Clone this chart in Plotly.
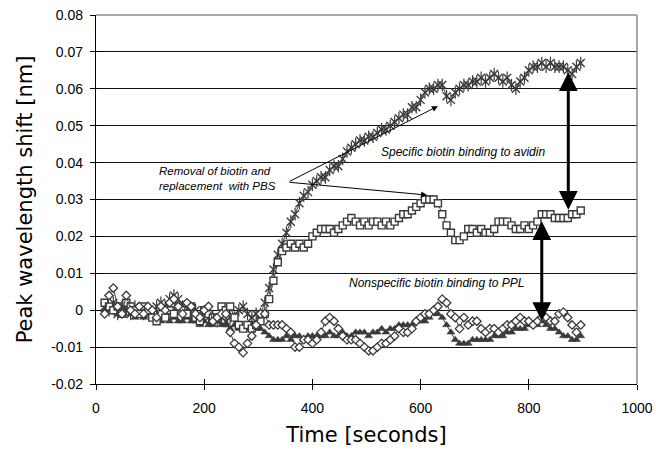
import plotly.graph_objects as go

time_s = [16, 24, 32, 40, 48, 56, 64, 72, 80, 88,
          96, 104, 112, 120, 128, 136, 144, 152, 160, 168,
          176, 184, 192, 200, 208, 216, 224, 232, 240, 248,
          256, 264, 272, 280, 288, 296, 304, 312, 320, 328,
          336, 344, 352, 360, 368, 376, 384, 392, 400, 408,
          416, 424, 432, 440, 448, 456, 464, 472, 480, 488,
          496, 504, 512, 520, 528, 536, 544, 552, 560, 568,
          576, 584, 592, 600, 608, 616, 624, 632, 640, 648,
          656, 664, 672, 680, 688, 696, 704, 712, 720, 728,
          736, 744, 752, 760, 768, 776, 784, 792, 800, 808,
          816, 824, 832, 840, 848, 856, 864, 872, 880, 888,
          896]

avidin = [0.001, 0.000, 0.002, -0.001, 0.001, 0.000, -0.001, 0.001, 0.000, -0.001,
          0.000, -0.001, 0.001, 0.002, 0.001, 0.003, 0.004, 0.003, 0.001, 0.000,
          -0.001, 0.000, -0.002, -0.001, -0.002, -0.002, -0.003, -0.002, -0.003, -0.002,
          -0.002, 0.000, 0.001, -0.001, -0.002, -0.001, -0.001, 0.002, 0.006, 0.011,
          0.015, 0.018, 0.021, 0.024, 0.026, 0.029, 0.031, 0.032, 0.034, 0.035,
          0.036, 0.036, 0.038, 0.039, 0.039, 0.041, 0.043, 0.044, 0.045, 0.046,
          0.046, 0.047, 0.047, 0.048, 0.049, 0.049, 0.050, 0.051, 0.052, 0.053,
          0.053, 0.055, 0.055, 0.057, 0.059, 0.060, 0.060, 0.061, 0.061, 0.058,
          0.057, 0.059, 0.060, 0.061, 0.061, 0.062, 0.062, 0.063, 0.062, 0.063,
          0.064, 0.063, 0.062, 0.063, 0.061, 0.060, 0.062, 0.063, 0.065, 0.066,
          0.066, 0.067, 0.066, 0.067, 0.066, 0.066, 0.066, 0.065, 0.064, 0.066,
          0.067]

pbs_square = [0.002, 0.001, 0.000, 0.001, -0.001, 0.002, 0.001, 0.000, -0.001, 0.001,
              0.000, -0.002, -0.003, -0.001, -0.002, 0.000, -0.001, 0.001, 0.000, -0.001,
              0.001, -0.002, -0.003, 0.000, -0.001, -0.002, -0.002, 0.001, 0.000, 0.001,
              -0.002, -0.004, -0.005, -0.004, -0.005, -0.004, -0.003, -0.001, 0.003, 0.008,
              0.013, 0.016, 0.017, 0.018, 0.017, 0.018, 0.017, 0.018, 0.020, 0.021,
              0.022, 0.022, 0.022, 0.021, 0.022, 0.023, 0.024, 0.025, 0.024, 0.023,
              0.024, 0.023, 0.024, 0.024, 0.023, 0.024, 0.023, 0.024, 0.025, 0.026,
              0.026, 0.027, 0.028, 0.029, 0.030, 0.030, 0.030, 0.029, 0.026, 0.023,
              0.021, 0.019, 0.019, 0.020, 0.022, 0.022, 0.021, 0.022, 0.021, 0.021,
              0.022, 0.024, 0.024, 0.024, 0.023, 0.022, 0.022, 0.023, 0.022, 0.023,
              0.024, 0.026, 0.026, 0.026, 0.025, 0.025, 0.025, 0.025, 0.026, 0.026,
              0.027]

ppl_diamond = [-0.001, 0.004, 0.006, 0.001, -0.001, 0.004, 0.000, -0.001, 0.001, -0.001,
               0.001, 0.000, -0.002, 0.001, 0.000, 0.002, 0.003, 0.001, -0.001, 0.002,
               0.001, -0.001, -0.002, 0.000, 0.001, -0.003, -0.002, -0.001, -0.001, -0.006,
               -0.009, -0.010, -0.0115, -0.009, -0.007, -0.004, -0.001, -0.001, -0.004, -0.004,
               -0.004, -0.004, -0.005, -0.006, -0.010, -0.010, -0.008, -0.008, -0.009, -0.008,
               -0.006, -0.003, -0.002, -0.003, -0.005, -0.007, -0.008, -0.008, -0.008, -0.009,
               -0.010, -0.011, -0.011, -0.010, -0.009, -0.009, -0.008, -0.007, -0.005, -0.006,
               -0.006, -0.005, -0.003, -0.002, -0.001, -0.001, 0.000, 0.001, 0.003, 0.002,
               -0.001, -0.002, -0.005, -0.002, -0.004, -0.003, -0.003, -0.005, -0.006, -0.005,
               -0.005, -0.006, -0.005, -0.004, -0.004, -0.003, -0.002, -0.003, -0.003, -0.004,
               -0.003, -0.002, -0.002, -0.003, -0.003, -0.001, -0.0005, -0.002, -0.004, -0.006,
               -0.004]

ppl_triangle = [0.000, 0.001, 0.000, -0.001, -0.001, 0.000, -0.001, -0.002, -0.001, -0.002,
                -0.001, -0.002, -0.002, -0.003, -0.002, -0.003, -0.002, -0.003, -0.003, -0.002,
                -0.003, -0.003, -0.004, -0.003, -0.004, -0.004, -0.003, -0.004, -0.004, -0.005,
                -0.004, -0.005, -0.005, -0.005, -0.004, -0.005, -0.005, -0.006, -0.007, -0.008,
                -0.008, -0.008, -0.007, -0.008, -0.007, -0.007, -0.008, -0.007, -0.007, -0.007,
                -0.007, -0.007, -0.006, -0.007, -0.007, -0.006, -0.007, -0.007, -0.006, -0.006,
                -0.006, -0.007, -0.006, -0.006, -0.005, -0.006, -0.005, -0.005, -0.004, -0.004,
                -0.004, -0.004, -0.003, -0.003, -0.003, -0.002, -0.001, -0.001, -0.002, -0.004,
                -0.006, -0.008, -0.009, -0.009, -0.009, -0.008, -0.008, -0.008, -0.008, -0.008,
                -0.007, -0.007, -0.007, -0.006, -0.006, -0.005, -0.005, -0.005, -0.004, -0.004,
                -0.004, -0.003, -0.004, -0.005, -0.005, -0.006, -0.007, -0.007, -0.008, -0.008,
                -0.007]

y_tickvals = [-0.02, -0.01, 0, 0.01, 0.02, 0.03, 0.04, 0.05, 0.06, 0.07, 0.08]
y_ticktext = ["-0.02", "-0.01", "0", "0.01", "0.02", "0.03", "0.04", "0.05", "0.06", "0.07", "0.08"]
x_tickvals = [0, 200, 400, 600, 800, 1000]
x_ticktext = ["0", "200", "400", "600", "800", "1000"]

DARK = "#3a3a3a"

fig = go.Figure()
fig.add_trace(go.Scatter(x=time_s, y=ppl_triangle, mode="lines+markers",
                         line=dict(color=DARK, width=1),
                         marker=dict(symbol="triangle-up", size=7, color=DARK,
                                     line=dict(color=DARK, width=0.5))))
fig.add_trace(go.Scatter(x=time_s, y=avidin, mode="lines+markers",
                         line=dict(color=DARK, width=1),
                         marker=dict(symbol="x-thin-open", size=8, color=DARK,
                                     line=dict(color=DARK, width=1.4))))
fig.add_trace(go.Scatter(x=time_s, y=avidin, mode="markers",
                         marker=dict(symbol="line-ns-open", size=9, color=DARK,
                                     line=dict(color=DARK, width=1.2))))
fig.add_trace(go.Scatter(x=time_s, y=pbs_square, mode="lines+markers",
                         line=dict(color=DARK, width=1),
                         marker=dict(symbol="square", size=7, color="white",
                                     line=dict(color=DARK, width=1.4))))
fig.add_trace(go.Scatter(x=time_s, y=ppl_diamond, mode="lines+markers",
                         line=dict(color=DARK, width=1),
                         marker=dict(symbol="diamond", size=6.5, color="white",
                                     line=dict(color=DARK, width=1.3))))

# inner half of the "cross" tick marks
fig.update_layout(
    xaxis2=dict(overlaying="x", anchor="y", range=[0, 1000], tickvals=x_tickvals,
                ticks="inside", ticklen=5, tickcolor="black", showticklabels=False,
                showgrid=False, zeroline=False, side="bottom", automargin=False),
    yaxis2=dict(overlaying="y", anchor="x", range=[-0.02, 0.08], tickvals=y_tickvals,
                ticks="inside", ticklen=5, tickcolor="black", showticklabels=False,
                showgrid=False, zeroline=False, side="left", automargin=False),
)
fig.add_trace(go.Scatter(x=[None], y=[None], xaxis="x2", yaxis="y2",
                         showlegend=False, hoverinfo="skip"))

ann_font = dict(family="Liberation Sans, Arial", size=12, color="black")
fig.add_annotation(x=678, y=0.0430, xref="x", yref="y", showarrow=False,
                   text="<i>Specific biotin binding to avidin</i>", font=ann_font)
fig.add_annotation(x=630, y=0.0075, xref="x", yref="y", showarrow=False,
                   text="<i>Nonspecific biotin binding to PPL</i>", font=ann_font)
fig.add_annotation(x=113, y=0.0356, xref="x", yref="y", showarrow=False,
                   xanchor="left", align="left",
                   text="<i>Removal of biotin and<br>replacement  with PBS</i>",
                   font=dict(family="Liberation Sans, Arial", size=11.5, color="black"))

# thin arrows from the removal note
for tx, ty in [(632, 0.0553), (612, 0.0312)]:
    fig.add_annotation(x=tx, y=ty, ax=355, ay=0.0347, xref="x", yref="y",
                       axref="x", ayref="y", text="", showarrow=True,
                       arrowhead=2, arrowsize=1.2, arrowwidth=1, arrowcolor="black",
                       standoff=0)

# thick double-headed arrows
for tx, ytop, ybot in [(873, 0.0645, 0.0268), (824, 0.0241, -0.0033)]:
    fig.add_annotation(x=tx, y=ytop, ax=tx, ay=ybot, xref="x", yref="y",
                       axref="x", ayref="y", text="", showarrow=True,
                       arrowhead=2, arrowsize=1.25, arrowwidth=3, arrowcolor="black",
                       arrowside="end+start", standoff=0, startstandoff=0)

# grey frame on top and right
fig.add_shape(type="line", xref="paper", yref="paper", x0=0, x1=1, y0=1, y1=1,
              line=dict(color="#8c8c8c", width=1.5))
fig.add_shape(type="line", xref="paper", yref="paper", x0=1, x1=1, y0=0, y1=1,
              line=dict(color="#8c8c8c", width=1.5))

fig.update_layout(
    width=656, height=456,
    margin=dict(l=96, r=19, t=15, b=72, autoexpand=False),
    paper_bgcolor="white", plot_bgcolor="white",
    showlegend=False,
    font=dict(family="Liberation Sans, Arial", size=14, color="black"),
    xaxis=dict(range=[0, 1000], tickvals=x_tickvals, ticktext=x_ticktext,
               ticks="outside", ticklen=5, tickcolor="black", tickwidth=1,
               showline=True, linecolor="black", linewidth=1.3,
               showgrid=False, zeroline=False, ticklabelstandoff=6,
               tickfont=dict(size=14), automargin=False,
               title=dict(text="Time [seconds]", standoff=12,
                          font=dict(family="DejaVu Sans", size=21))),
    yaxis=dict(range=[-0.02, 0.08], tickvals=y_tickvals, ticktext=y_ticktext,
               ticks="outside", ticklen=5, tickcolor="black", tickwidth=1,
               showline=True, linecolor="black", linewidth=1.3,
               showgrid=True, gridcolor="#111111", gridwidth=1.3,
               zeroline=False, ticklabelstandoff=4,
               tickfont=dict(size=14), automargin=False,
               title=dict(text="Peak wavelength shift [nm]", standoff=12,
                          font=dict(family="DejaVu Sans", size=21))),
)

fig.write_html("out.html")
